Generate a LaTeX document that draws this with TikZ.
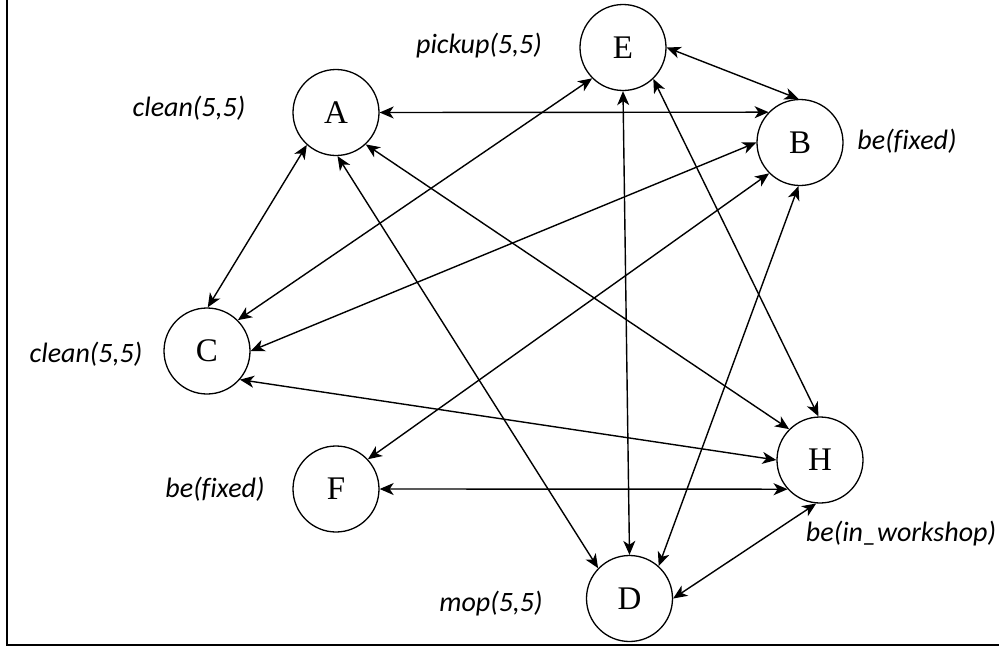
\documentclass[tikz,border=0pt]{standalone}
\usepackage{fontspec}
\setmainfont{Liberation Serif}
\newfontfamily\labelfont[Ligatures=NoCommon]{Carlito}
\usetikzlibrary{arrows.meta}
\begin{document}
\begin{tikzpicture}[x=1pt,y=-1pt,
  state/.style={circle,draw,line width=1.3pt,minimum size=86pt,inner sep=0pt,font=\fontsize{33}{36}\selectfont},
  lbl/.style={font=\labelfont\itshape\fontsize{28}{32}\selectfont,inner sep=0pt},
  link/.style={line width=1.4pt,{Stealth[length=14pt,width=12pt,inset=4pt]}-{Stealth[length=14pt,width=12pt,inset=4pt]}}]
\useasboundingbox (0,0) rectangle (999,648);
\draw[line width=2pt] (7,0) -- (7,645) -- (1000,645);
\node[state] (A) at (336,112.5) {A};
\node[state] (E) at (623,47.5) {E};
\node[state] (B) at (800,142.5) {B};
\node[state] (C) at (207,351) {C};
\node[state] (F) at (336,489) {F};
\node[state] (H) at (820,460) {H};
\node[state] (D) at (629.5,598.5) {D};
\node[lbl] (lA) at (189,108) {clean(5,5)};
\node[lbl] (lE) at (479,46) {pickup(5,5)};
\node[lbl] (lB) at (907,141) {be(fixed)};
\node[lbl] (lC) at (86,354) {clean(5,5)};
\node[lbl] (lF) at (215,489) {be(fixed)};
\node[lbl] (lH) at (901,534) {be(in\_workshop)};
\node[lbl] (lD) at (491,604) {mop(5,5)};
\draw[link] (A.east) -- (B.136);
\draw[link] (A.228) -- (C.89);
\draw[link] (A.272) -- (D.136);
\draw[link] (A.313) -- (H.135);
\draw[link] (E.225) -- (C.45);
\draw[link] (E.south) -- (D.north);
\draw[link] (E.314) -- (H.92);
\draw[link] (E.east) -- (B.92);
\draw[link] (B.west) -- (C.east);
\draw[link] (B.225) -- (F.43);
\draw[link] (B.268) -- (D.48);
\draw[link] (C.319) -- (H.west);
\draw[link] (F.east) -- (H.222);
\draw[link] (D.east) -- (H.265);
\end{tikzpicture}
\end{document}
